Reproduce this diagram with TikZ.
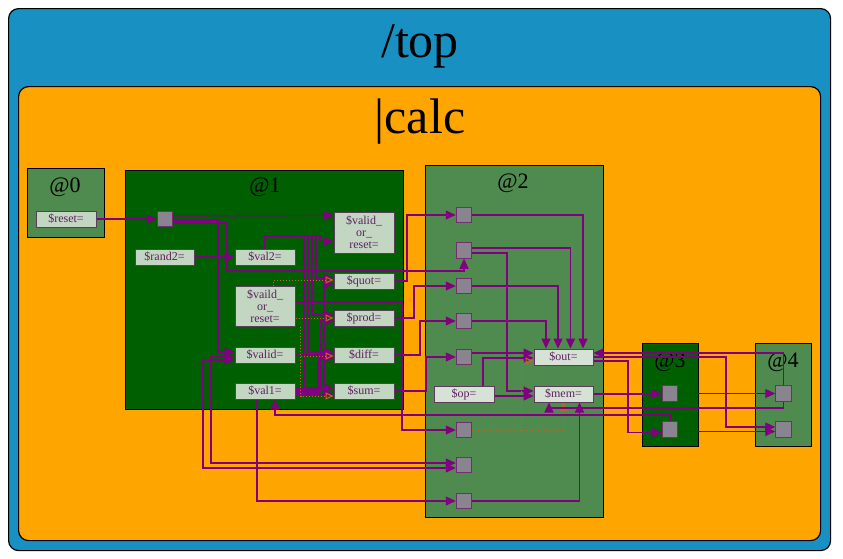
\documentclass[tikz,border=0pt]{standalone}
\usepackage{fontspec}
\setmainfont{Liberation Serif}
\usetikzlibrary{arrows.meta,calc}
\definecolor{topblue}{HTML}{1890C2}
\definecolor{calcorange}{HTML}{FFA500}
\definecolor{midgreen}{HTML}{4F8A4F}
\definecolor{darkgreen}{HTML}{005F00}
\definecolor{portfill}{HTML}{C2D6C2}
\definecolor{portfillb}{HTML}{D6E2D6}
\definecolor{portdraw}{HTML}{5C3C5C}
\definecolor{sqfill}{HTML}{8A8490}
\definecolor{sqdraw}{HTML}{703070}
\definecolor{wirec}{HTML}{800080}
\definecolor{labelc}{HTML}{602060}
\definecolor{dotc}{HTML}{C8641E}
\begin{document}
\begin{tikzpicture}[x=1pt,y=-1pt,
  box/.style={draw=black, line width=1.2pt, anchor=north west, inner sep=0pt},
  title/.style={anchor=base, inner sep=0pt, font=\fontsize{22}{22}\selectfont},
  bigtitle/.style={anchor=base, inner sep=0pt, font=\fontsize{50}{50}\selectfont},
  port/.style={draw=portdraw, line width=1pt, fill=portfill, text=labelc,
    font=\fontsize{12}{12}\selectfont, minimum width=60pt, minimum height=16pt,
    inner sep=0pt, align=center},
  portb/.style={port, fill=portfillb},
  sq/.style={draw=sqdraw, line width=1pt, fill=sqfill, minimum size=15.5pt, inner sep=0pt},
  wire/.style={draw=wirec, line width=1.2pt, -{Triangle[length=10pt,width=9pt]}},
  wire2/.style={draw=wirec, line width=1.2pt, {Triangle[length=10pt,width=9pt]}-{Triangle[length=10pt,width=9pt]}},
  odot/.style={draw=dotc, line width=1pt, dotted, -{Triangle[open,length=8pt,width=7pt]}},
]
\useasboundingbox (0,0) rectangle (843,558);
\fill[white] (0,0) rectangle (843,558);

% containers
\node[box, fill=topblue, rounded corners=10pt, minimum width=822pt, minimum height=542pt] (topbox) at (8,8) {};
\node[bigtitle] (ttop) at (420,57) {/top};
\node[box, fill=calcorange, rounded corners=10pt, minimum width=802pt, minimum height=454pt] (calcbox) at (18,86) {};
\node[bigtitle] (tcalc) at (420,133) {|calc};

\node[box, fill=midgreen, minimum width=77pt, minimum height=69pt] (m0) at (27,168) {};
\node[title] (t0) at (65,192) {@0};
\node[box, fill=darkgreen, minimum width=278pt, minimum height=239pt] (m1) at (125,170) {};
\node[title] (t1) at (265,192) {@1};
\node[box, fill=midgreen, minimum width=178pt, minimum height=352pt] (m2) at (425,165) {};
\node[title] (t2) at (513,188) {@2};
\node[box, fill=darkgreen, minimum width=56pt, minimum height=103pt] (m3) at (642,343) {};
\node[title] (t3) at (670,367) {@3};
\node[box, fill=midgreen, minimum width=56pt, minimum height=103pt] (m4) at (755,343) {};
\node[title] (t4) at (783,367) {@4};

% @0
\node[port] (reset) at (66,219) {\$reset=};
% @1
\node[sq] (s10) at (165,219) {};
\node[port, minimum width=59pt] (rand2) at (164.5,257) {\$rand2=};
\node[port] (val2) at (265,257) {\$val2=};
\node[port, minimum height=41pt] (valorT) at (364,232.5) {\$valid\_\\or\_\\reset=};
\node[port, minimum height=40pt] (vaildM) at (265,306) {\$vaild\_\\or\_\\reset=};
\node[port] (quot) at (364,281) {\$quot=};
\node[port] (prod) at (364,318) {\$prod=};
\node[port] (diff) at (364,355) {\$diff=};
\node[port] (sum) at (364,391) {\$sum=};
\node[port] (valid) at (265,355) {\$valid=};
\node[port] (val1) at (265,391) {\$val1=};
% @2
\node[sq] (q1) at (464,215) {};
\node[sq] (q2) at (464,250.5) {};
\node[sq] (q3) at (464,286) {};
\node[sq] (q4) at (464,321) {};
\node[sq] (q5) at (464,357) {};
\node[sq] (q6) at (464,430) {};
\node[sq] (q7) at (464,465) {};
\node[sq] (q8) at (464,501) {};
\node[portb, minimum width=59pt] (out) at (563.5,357) {\$out=};
\node[portb, minimum width=59pt] (mem) at (563.5,394) {\$mem=};
\node[portb] (op) at (464,394) {\$op=};
% @3, @4
\node[sq] (s31) at (670,393.5) {};
\node[sq] (s32) at (670,429.5) {};
\node[sq] (s41) at (783.5,393.5) {};
\node[sq] (s42) at (783.5,429.5) {};

% connectors inside @1
\draw[wire] (reset.east) -- (s10.west);
\draw[wire] ($(s10.east)+(0,-3)$) -- ($(valorT.north west)+(0,4)$);
\draw[wire] ($(s10.east)+(0,1)$) -| (218,352) -- ($(valid.west)+(0,-3)$);
\draw[wire] ($(s10.east)+(0,4)$) -| (227,271) -| (q2.south);
\draw[wire] (rand2.east) -- (val2.west);

\draw[wire] (val2.north) |- (320,236) |- ($(valorT.west)+(0,9)$);
\draw[wire] (val2.north) |- (316,236) |- ($(quot.west)+(0,-3)$);
\draw[wire] (val2.north) |- (312,236) |- ($(prod.west)+(0,-3)$);
\draw[wire] (val2.north) |- (308,236) |- ($(diff.west)+(0,-3)$);
\draw[wire] (val2.north) |- (304,236) |- ($(sum.west)+(0,-3)$);

\draw[wire] ($(val1.east)+(0,-3)$) -| (324,284) -- ($(quot.west)+(0,3)$);
\draw[wire] ($(val1.east)+(0,-1)$) -| (321,321) -- ($(prod.west)+(0,3)$);
\draw[wire] ($(val1.east)+(0,1)$) -| (318,358) -- ($(diff.west)+(0,3)$);
\draw[wire] ($(val1.east)+(0,3)$) -- ($(sum.west)+(0,3)$);
\draw[wire] (valid.east) -- (diff.west);

\draw[odot] ($(vaildM.north)+(8,0)$) |- ($(quot.west)+(0,-1)$);
\draw[odot] ($(vaildM.east)+(0,12)$) -- ($(prod.west)+(0,0)$);
\draw[odot] ($(vaildM.south east)+(5,0)$) |- ($(diff.west)+(0,1)$);
\draw[odot] ($(vaildM.south east)+(5,0)$) |- ($(sum.west)+(0,5)$);

% @1 to @2
\draw[wire] ($(vaildM.east)+(0,-4)$) -| (402,430) -- (q6.west);
\draw[wire] (quot.east) -| (407,215) -- (q1.west);
\draw[wire] (prod.east) -| (414,286) -- (q3.west);
\draw[wire] (diff.east) -| (420,321) -- (q4.west);
\draw[wire] (sum.east) -| (426,357) -- (q5.west);
\draw[wire2] ($(valid.west)+(0,2)$) -| (211,463) -- ($(q7.west)+(0,-2)$);
\draw[wire2] ($(valid.west)+(0,5)$) -| (203,468) -- ($(q7.west)+(0,3)$);
\draw[wire] ($(val1.south)+(-8,0)$) |- (q8.west);

% inside @2
\draw[wire] (q1.east) -| ($(out.north)+(19.5,0)$);
\draw[wire] ($(q2.east)+(0,-2.5)$) -| ($(out.north)+(7,0)$);
\draw[wire] ($(q2.east)+(0,2.5)$) -| (507,391) -- ($(mem.west)+(0,-3)$);
\draw[wire] (q3.east) -| ($(out.north)+(-5.5,0)$);
\draw[wire] (q4.east) -| ($(out.north)+(-17.5,0)$);
\draw[wire] ($(q5.east)+(0,-4)$) -- ($(out.west)+(0,-4)$);
\draw[wire] ($(op.north)+(19,0)$) |- ($(out.west)+(0,1)$);
\draw[wire] ($(op.east)+(0,2)$) -- ($(mem.west)+(0,2)$);
\draw[wire] (q8.east) -| ($(mem.south)+(16,0)$);
\draw[odot] (q6.east) -| (521,361) -- ($(out.west)+(0,4)$);
\draw[odot] (q6.east) -| (mem.south);

% @2, @3, @4 and back to @1
\draw[wire] (mem.east) -- (mem.east -| s31.west);
\draw[wire] (s31.east) -- (s41.west);
\draw[wire] ($(s32.east)+(0,2)$) -- ($(s42.west)+(0,2)$);
\draw[wire] (s41.north) |- ($(out.east)+(0,-4)$);
\draw[wire] ($(out.east)+(0,4)$) -| (628,432.5) -- ($(s32.west)+(0,3)$);
\draw[wire] (out.east) -| (726,427) -- ($(s42.west)+(0,-2.5)$);
\draw[wire] (s41.south) |- (549,408) -- ($(mem.south)+(-14.5,0)$);
\draw[wire] (s32.north) |- (275,415) -- ($(val1.south)+(10,0)$);
\end{tikzpicture}
\end{document}
